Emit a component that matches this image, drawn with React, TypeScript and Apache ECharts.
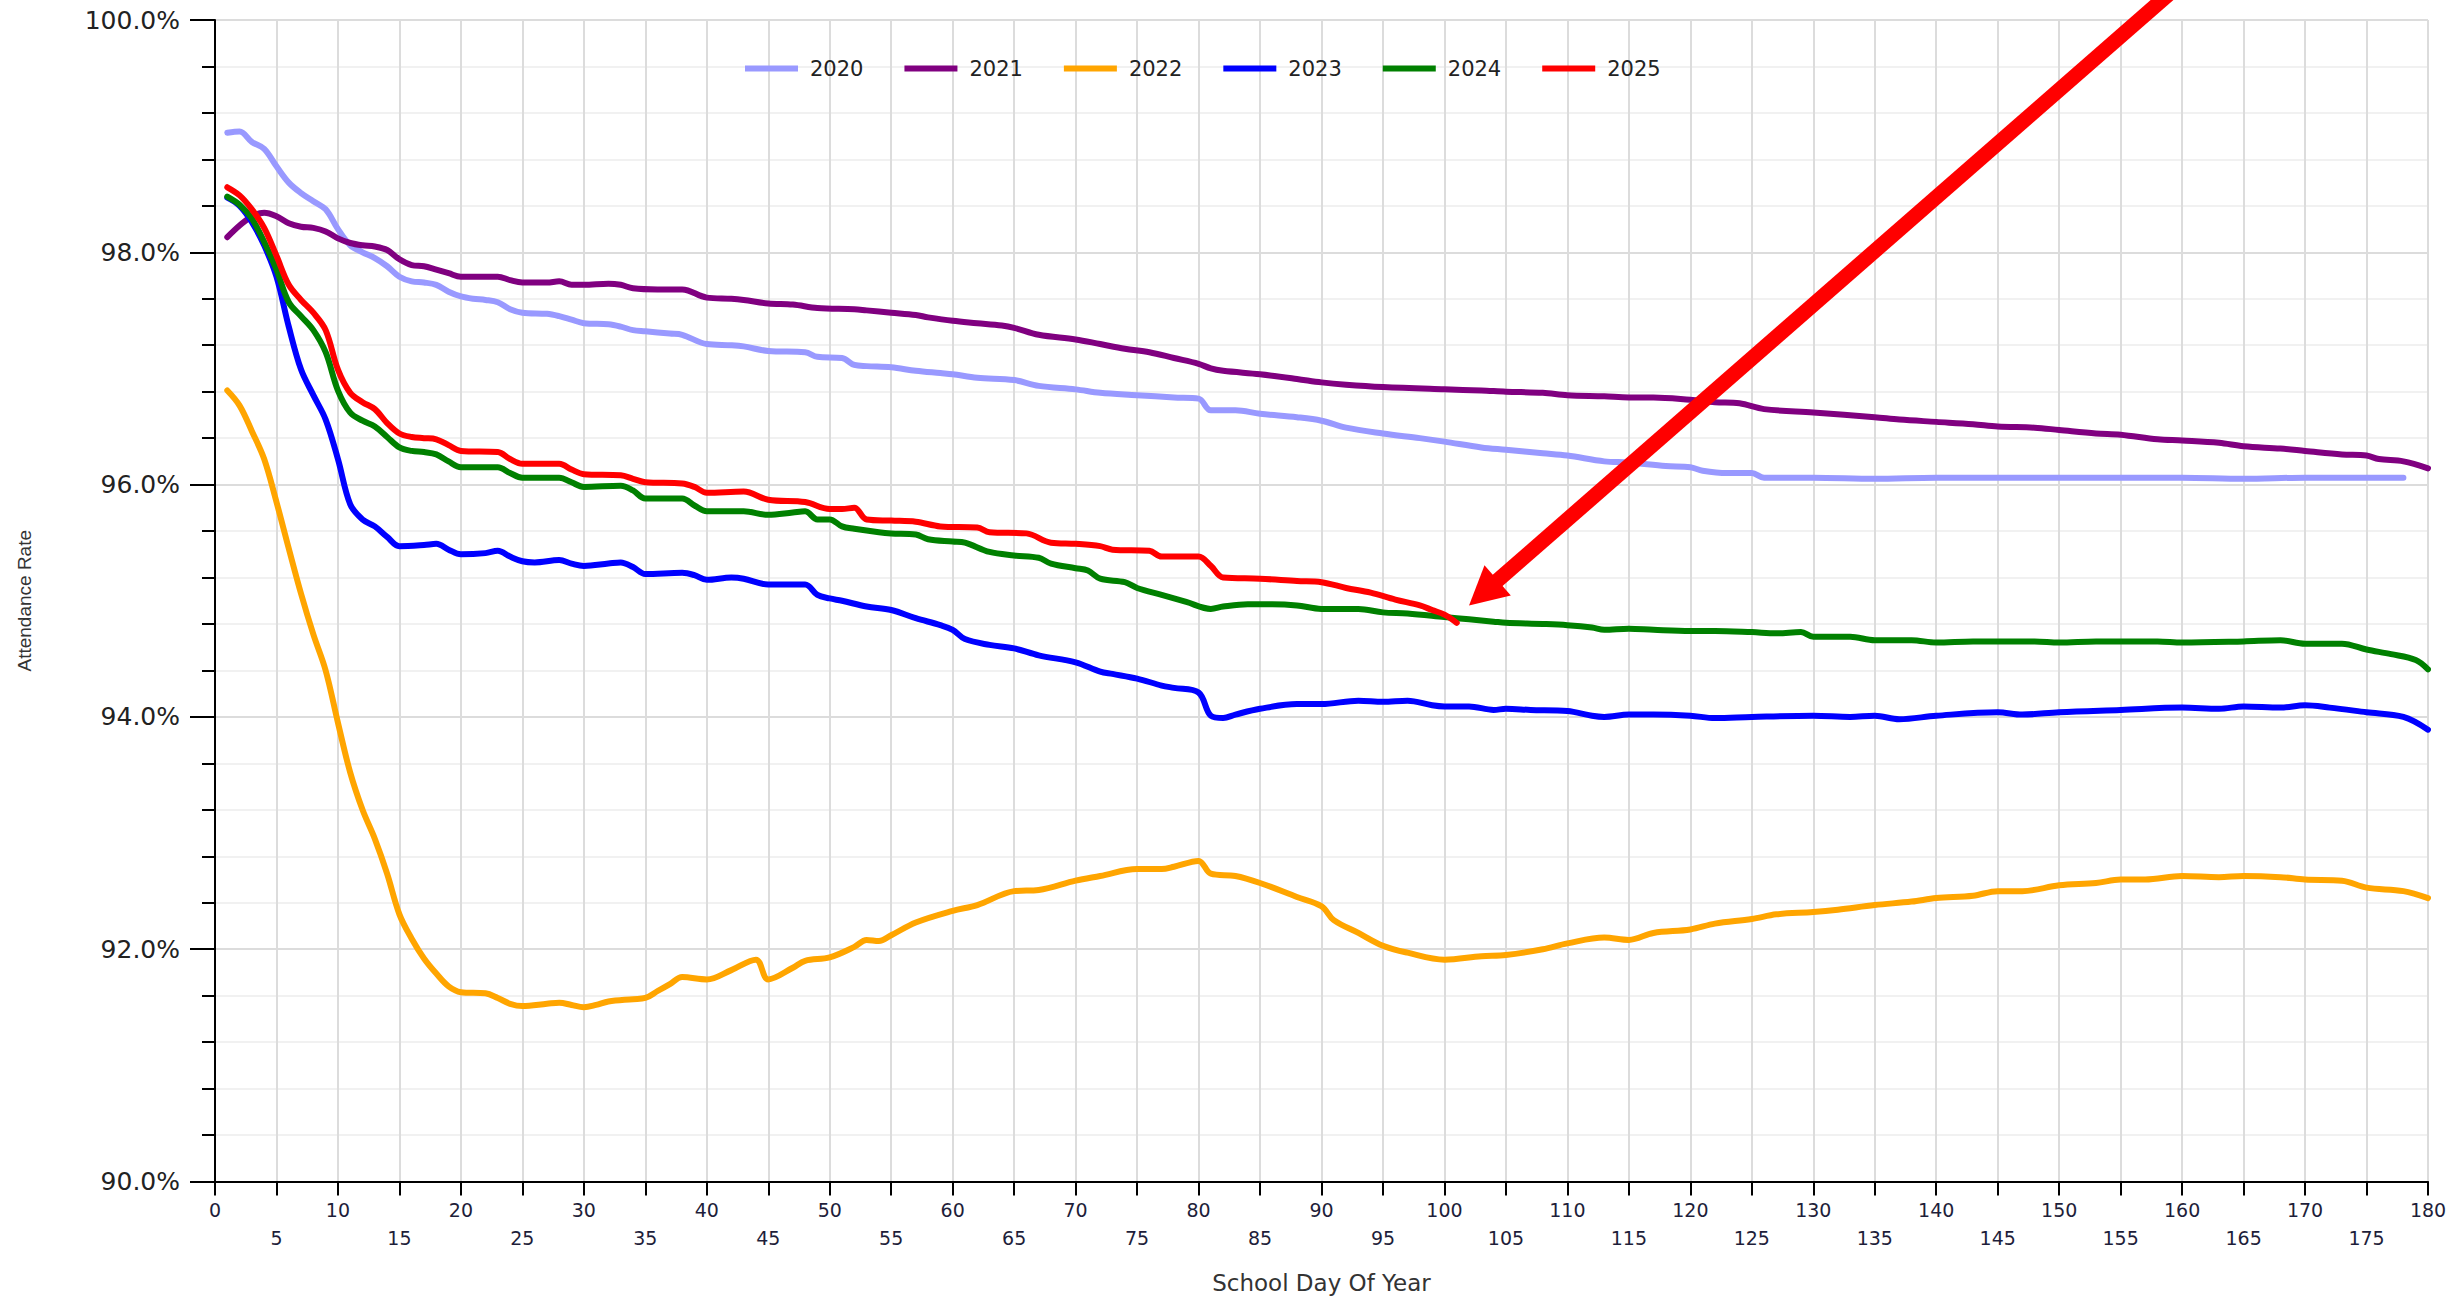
import React, { useEffect, useRef } from "react";
import * as echarts from "echarts";

type Pt = [number, number];

const years = ["2020", "2021", "2022", "2023", "2024", "2025"];
const colors = ["#9999ff", "#800080", "#ffa500", "#0000ff", "#008000", "#ff0000"];

const s2020: Pt[] = [
  [1, 99.03], [2, 99.04], [3, 98.95], [4, 98.89], [5, 98.74], [6, 98.6], [7, 98.51], [8, 98.44], [9, 98.37], [10, 98.2],
  [11, 98.06], [12, 98.0], [13, 97.95], [14, 97.88], [15, 97.79], [16, 97.75], [17, 97.74], [18, 97.72], [19, 97.66], [20, 97.62],
  [21, 97.6], [22, 97.59], [23, 97.57], [24, 97.51], [25, 97.48], [27, 97.47], [28, 97.45], [29, 97.42], [30, 97.39], [32, 97.38],
  [33, 97.36], [34, 97.33], [35, 97.32], [37, 97.3], [38, 97.29], [40, 97.21], [42, 97.2], [43, 97.19], [45, 97.15], [48, 97.14],
  [49, 97.1], [51, 97.09], [52, 97.03], [53, 97.02], [55, 97.01], [57, 96.98], [59, 96.96], [60, 96.95], [62, 96.92], [65, 96.9],
  [67, 96.85], [70, 96.82], [72, 96.79], [75, 96.77], [78, 96.75], [80, 96.74], [81, 96.64], [83, 96.64], [85, 96.61], [88, 96.58],
  [90, 96.55], [92, 96.49], [95, 96.44], [98, 96.4], [100, 96.37], [103, 96.32], [105, 96.3], [108, 96.27], [110, 96.25], [113, 96.2],
  [115, 96.19], [118, 96.16], [120, 96.15], [121, 96.12], [123, 96.1], [125, 96.1], [126, 96.06], [130, 96.06], [135, 96.05], [140, 96.06],
  [145, 96.06], [150, 96.06], [155, 96.06], [160, 96.06], [165, 96.05], [170, 96.06], [175, 96.06], [178, 96.06],
];

const s2021: Pt[] = [
  [1, 98.13], [2, 98.23], [3, 98.31], [4, 98.34], [5, 98.31], [6, 98.25], [7, 98.22], [8, 98.21], [9, 98.18], [10, 98.12],
  [11, 98.08], [12, 98.06], [13, 98.05], [14, 98.02], [15, 97.94], [16, 97.89], [17, 97.88], [18, 97.85], [19, 97.82], [20, 97.79],
  [22, 97.79], [23, 97.79], [24, 97.76], [25, 97.74], [27, 97.74], [28, 97.75], [29, 97.72], [30, 97.72], [32, 97.73], [33, 97.72],
  [34, 97.69], [36, 97.68], [38, 97.68], [40, 97.61], [42, 97.6], [43, 97.59], [45, 97.56], [47, 97.55], [49, 97.52], [52, 97.51],
  [53, 97.5], [55, 97.48], [57, 97.46], [58, 97.44], [60, 97.41], [62, 97.39], [64, 97.37], [65, 97.35], [67, 97.29], [70, 97.25],
  [72, 97.21], [74, 97.17], [76, 97.14], [78, 97.09], [80, 97.04], [81, 97.0], [82, 96.98], [85, 96.95], [88, 96.91], [90, 96.88],
  [92, 96.86], [95, 96.84], [100, 96.82], [103, 96.81], [105, 96.8], [108, 96.79], [110, 96.77], [113, 96.76], [115, 96.75], [117, 96.75],
  [120, 96.73], [122, 96.71], [124, 96.7], [126, 96.65], [130, 96.62], [135, 96.58], [137, 96.56], [140, 96.54], [143, 96.52], [145, 96.5],
  [148, 96.49], [150, 96.47], [153, 96.44], [155, 96.43], [158, 96.39], [160, 96.38], [163, 96.36], [165, 96.33], [168, 96.31], [170, 96.29],
  [173, 96.26], [175, 96.25], [176, 96.22], [178, 96.2], [180, 96.14],
];

const s2022: Pt[] = [
  [1, 96.81], [2, 96.68], [3, 96.46], [4, 96.22], [5, 95.85], [6, 95.45], [7, 95.06], [8, 94.71], [9, 94.4], [10, 93.95],
  [11, 93.52], [12, 93.2], [13, 92.95], [14, 92.65], [15, 92.3], [16, 92.09], [17, 91.92], [18, 91.79], [19, 91.68], [20, 91.63],
  [22, 91.62], [23, 91.58], [24, 91.53], [25, 91.51], [27, 91.53], [28, 91.54], [29, 91.52], [30, 91.5], [31, 91.52], [32, 91.55],
  [34, 91.57], [35, 91.58], [36, 91.64], [37, 91.7], [38, 91.76], [40, 91.74], [42, 91.82], [44, 91.91], [45, 91.74], [47, 91.84],
  [48, 91.9], [50, 91.93], [52, 92.02], [53, 92.08], [54, 92.07], [55, 92.12], [57, 92.23], [60, 92.33], [62, 92.38], [65, 92.5],
  [67, 92.51], [70, 92.59], [72, 92.63], [75, 92.69], [77, 92.69], [78, 92.71], [80, 92.76], [81, 92.65], [83, 92.63], [85, 92.57],
  [88, 92.45], [90, 92.37], [91, 92.25], [93, 92.14], [95, 92.03], [97, 91.97], [100, 91.91], [103, 91.94], [105, 91.95], [108, 92.0],
  [110, 92.05], [113, 92.1], [115, 92.08], [117, 92.14], [120, 92.17], [122, 92.22], [125, 92.26], [127, 92.3], [130, 92.32], [132, 92.34],
  [135, 92.38], [138, 92.41], [140, 92.44], [143, 92.46], [145, 92.5], [147, 92.5], [150, 92.55], [153, 92.57], [155, 92.6], [157, 92.6],
  [160, 92.63], [163, 92.62], [165, 92.63], [168, 92.62], [170, 92.6], [173, 92.59], [175, 92.53], [178, 92.5], [180, 92.44],
];

const s2023: Pt[] = [
  [1, 98.47], [2, 98.4], [3, 98.26], [4, 98.06], [5, 97.79], [6, 97.36], [7, 96.99], [8, 96.77], [9, 96.56], [10, 96.22],
  [11, 95.83], [12, 95.7], [13, 95.64], [14, 95.55], [15, 95.47], [17, 95.48], [18, 95.49], [19, 95.44], [20, 95.4], [22, 95.41],
  [23, 95.43], [24, 95.38], [25, 95.34], [26, 95.33], [28, 95.35], [29, 95.32], [30, 95.3], [32, 95.32], [33, 95.33], [34, 95.29],
  [35, 95.23], [38, 95.24], [39, 95.22], [40, 95.18], [42, 95.2], [43, 95.19], [45, 95.14], [48, 95.14], [49, 95.05], [50, 95.02],
  [51, 95.0], [53, 94.95], [55, 94.92], [57, 94.85], [59, 94.79], [60, 94.75], [61, 94.67], [63, 94.62], [65, 94.59], [67, 94.53],
  [70, 94.47], [72, 94.39], [73, 94.37], [75, 94.33], [77, 94.27], [78, 94.25], [80, 94.21], [81, 94.01], [82, 93.99], [83, 94.02],
  [85, 94.07], [88, 94.11], [90, 94.11], [93, 94.14], [95, 94.13], [97, 94.14], [99, 94.1], [100, 94.09], [102, 94.09], [104, 94.06],
  [105, 94.07], [107, 94.06], [110, 94.05], [112, 94.01], [113, 94.0], [115, 94.02], [117, 94.02], [120, 94.01], [122, 93.99], [125, 94.0],
  [130, 94.01], [133, 94.0], [135, 94.01], [137, 93.98], [140, 94.01], [145, 94.04], [147, 94.02], [150, 94.04], [155, 94.06], [160, 94.08],
  [163, 94.07], [165, 94.09], [168, 94.08], [170, 94.1], [172, 94.08], [175, 94.04], [178, 94.0], [180, 93.89],
];

const s2024: Pt[] = [
  [1, 98.48], [2, 98.41], [3, 98.29], [4, 98.09], [5, 97.85], [6, 97.57], [7, 97.45], [8, 97.33], [9, 97.14], [10, 96.81],
  [11, 96.62], [12, 96.55], [13, 96.5], [14, 96.41], [15, 96.32], [16, 96.29], [17, 96.28], [18, 96.26], [19, 96.2], [20, 96.15],
  [23, 96.15], [24, 96.1], [25, 96.06], [28, 96.06], [29, 96.02], [30, 95.98], [33, 95.99], [34, 95.95], [35, 95.88], [38, 95.88],
  [39, 95.82], [40, 95.77], [43, 95.77], [45, 95.74], [47, 95.76], [48, 95.77], [49, 95.7], [50, 95.7], [51, 95.64], [52, 95.62],
  [54, 95.59], [55, 95.58], [57, 95.57], [58, 95.53], [60, 95.51], [61, 95.5], [63, 95.42], [65, 95.39], [67, 95.37], [68, 95.32],
  [70, 95.28], [71, 95.26], [72, 95.19], [74, 95.16], [75, 95.11], [77, 95.05], [79, 94.99], [81, 94.93], [82, 94.95], [84, 94.97],
  [86, 94.97], [88, 94.96], [90, 94.93], [93, 94.93], [95, 94.9], [97, 94.89], [100, 94.86], [102, 94.84], [104, 94.82], [105, 94.81],
  [108, 94.8], [110, 94.79], [112, 94.77], [113, 94.75], [115, 94.76], [117, 94.75], [120, 94.74], [122, 94.74], [125, 94.73], [127, 94.72],
  [129, 94.73], [130, 94.69], [133, 94.69], [135, 94.66], [138, 94.66], [140, 94.64], [143, 94.65], [148, 94.65], [150, 94.64], [153, 94.65],
  [158, 94.65], [160, 94.64], [165, 94.65], [168, 94.66], [170, 94.63], [173, 94.63], [175, 94.58], [177, 94.54], [179, 94.49], [180, 94.41],
];

const s2025: Pt[] = [
  [1, 98.56], [2, 98.49], [3, 98.37], [4, 98.21], [5, 97.97], [6, 97.72], [7, 97.59], [8, 97.48], [9, 97.33], [10, 96.99],
  [11, 96.79], [12, 96.71], [13, 96.65], [14, 96.53], [15, 96.44], [16, 96.41], [17, 96.4], [18, 96.39], [19, 96.34], [20, 96.29],
  [23, 96.28], [24, 96.22], [25, 96.18], [28, 96.18], [29, 96.13], [30, 96.09], [33, 96.08], [34, 96.05], [35, 96.02], [38, 96.01],
  [39, 95.98], [40, 95.93], [43, 95.94], [45, 95.87], [48, 95.85], [50, 95.79], [51, 95.79], [52, 95.8], [53, 95.7], [55, 95.69],
  [57, 95.68], [59, 95.64], [62, 95.63], [63, 95.59], [66, 95.58], [68, 95.5], [70, 95.49], [72, 95.47], [73, 95.44], [76, 95.43],
  [77, 95.38], [80, 95.38], [81, 95.3], [82, 95.2], [85, 95.19], [88, 95.17], [90, 95.16], [92, 95.11], [94, 95.07], [96, 95.01],
  [98, 94.96], [99, 94.92], [100, 94.88], [101, 94.81],
];

const seriesData = [s2020, s2021, s2022, s2023, s2024, s2025];

// Arrow annotation: tip in data coords (day, rate)
const arrowTip: Pt = [102, 94.96];

export default function App() {
  const ref = useRef<HTMLDivElement>(null);

  useEffect(() => {
    const chart = echarts.init(ref.current!, null, { renderer: "svg" });
    const option: any = {
      animation: false,
      backgroundColor: "#ffffff",
      grid: { left: 215, right: 28, top: 20, bottom: 112, containLabel: false },
      legend: {
        left: 745,
        top: 58,
        padding: 0,
        itemWidth: 53,
        itemHeight: 6,
        itemGap: 41,
        icon: "rect",
        data: years,
        textStyle: {
          fontFamily: "DejaVu Sans",
          fontSize: 21,
          color: "#222",
          padding: [0, 0, 0, 7],
        },
      },
      xAxis: {
        type: "value",
        min: 0,
        max: 180,
        interval: 5,
        name: "School Day Of Year",
        nameLocation: "middle",
        nameGap: 101,
        nameTextStyle: {
          fontFamily: "DejaVu Sans",
          fontSize: 23,
          color: "#333",
          verticalAlign: "middle",
        },
        axisLine: { show: true, onZero: false, lineStyle: { color: "#000", width: 2 } },
        axisTick: { show: true, length: 14, lineStyle: { color: "#000", width: 2 } },
        axisLabel: {
          margin: 14,
          fontFamily: "DejaVu Sans",
          fontSize: 19,
          lineHeight: 28,
          color: "#1e1e3a",
          formatter: (v: number) => (v % 10 === 0 ? `${v}` : `\n${v}`),
        },
        splitLine: { show: true, lineStyle: { color: "#dcdcdc", width: 2 } },
      },
      yAxis: {
        type: "value",
        min: 90,
        max: 100,
        interval: 2,
        name: "Attendance Rate",
        nameLocation: "middle",
        nameGap: 191,
        nameRotate: 90,
        nameTextStyle: {
          fontFamily: "Liberation Sans",
          fontSize: 19,
          color: "#333",
          verticalAlign: "middle",
        },
        axisLine: { show: true, lineStyle: { color: "#000", width: 2 } },
        axisTick: { show: true, length: 25, lineStyle: { color: "#000", width: 2 } },
        minorTick: { show: true, splitNumber: 5, length: 13, lineStyle: { color: "#000", width: 2 } },
        axisLabel: {
          margin: 35,
          fontFamily: "DejaVu Sans",
          fontSize: 25,
          color: "#222",
          formatter: (v: number) => `${v.toFixed(1)}%`,
        },
        splitLine: { show: true, lineStyle: { color: "#dcdcdc", width: 2 } },
        minorSplitLine: { show: true, lineStyle: { color: "#f1f1f1", width: 2 } },
      },
      series: years.map((y, i) => ({
        name: y,
        type: "line",
        data: seriesData[i],
        showSymbol: false,
        symbol: "none",
        smooth: 0.35,
        color: colors[i],
        lineStyle: { color: colors[i], width: 6, cap: "round", join: "round" },
        z: 3 + i,
      })),
    };
    chart.setOption(option);

    const tip = chart.convertToPixel({ gridIndex: 0 }, arrowTip) as number[];
    const dirX = 696;
    const dirY = -608;
    const len = Math.hypot(dirX, dirY);
    const ux = dirX / len;
    const uy = dirY / len;
    const nx = -uy;
    const ny = ux;
    const headLen = 38;
    const headHalf = 20;
    const bx = tip[0] + ux * headLen;
    const by = tip[1] + uy * headLen;
    const tailX = tip[0] + ux * (len + 60);
    const tailY = tip[1] + uy * (len + 60);

    chart.setOption({
      graphic: [
        {
          type: "line",
          z: 100,
          shape: { x1: tip[0] + ux * 30, y1: tip[1] + uy * 30, x2: tailX, y2: tailY },
          style: { stroke: "#ff0000", lineWidth: 15 },
        },
        {
          type: "polygon",
          z: 101,
          shape: {
            points: [
              [tip[0], tip[1]],
              [bx - nx * headHalf, by - ny * headHalf],
              [bx + nx * headHalf, by + ny * headHalf],
            ],
          },
          style: { fill: "#ff0000" },
        },
      ],
    });

    return () => chart.dispose();
  }, []);

  return (
    <div
      ref={ref}
      style={{ position: "fixed", left: 0, top: 0, width: 2456, height: 1299, background: "#fff" }}
    />
  );
}
